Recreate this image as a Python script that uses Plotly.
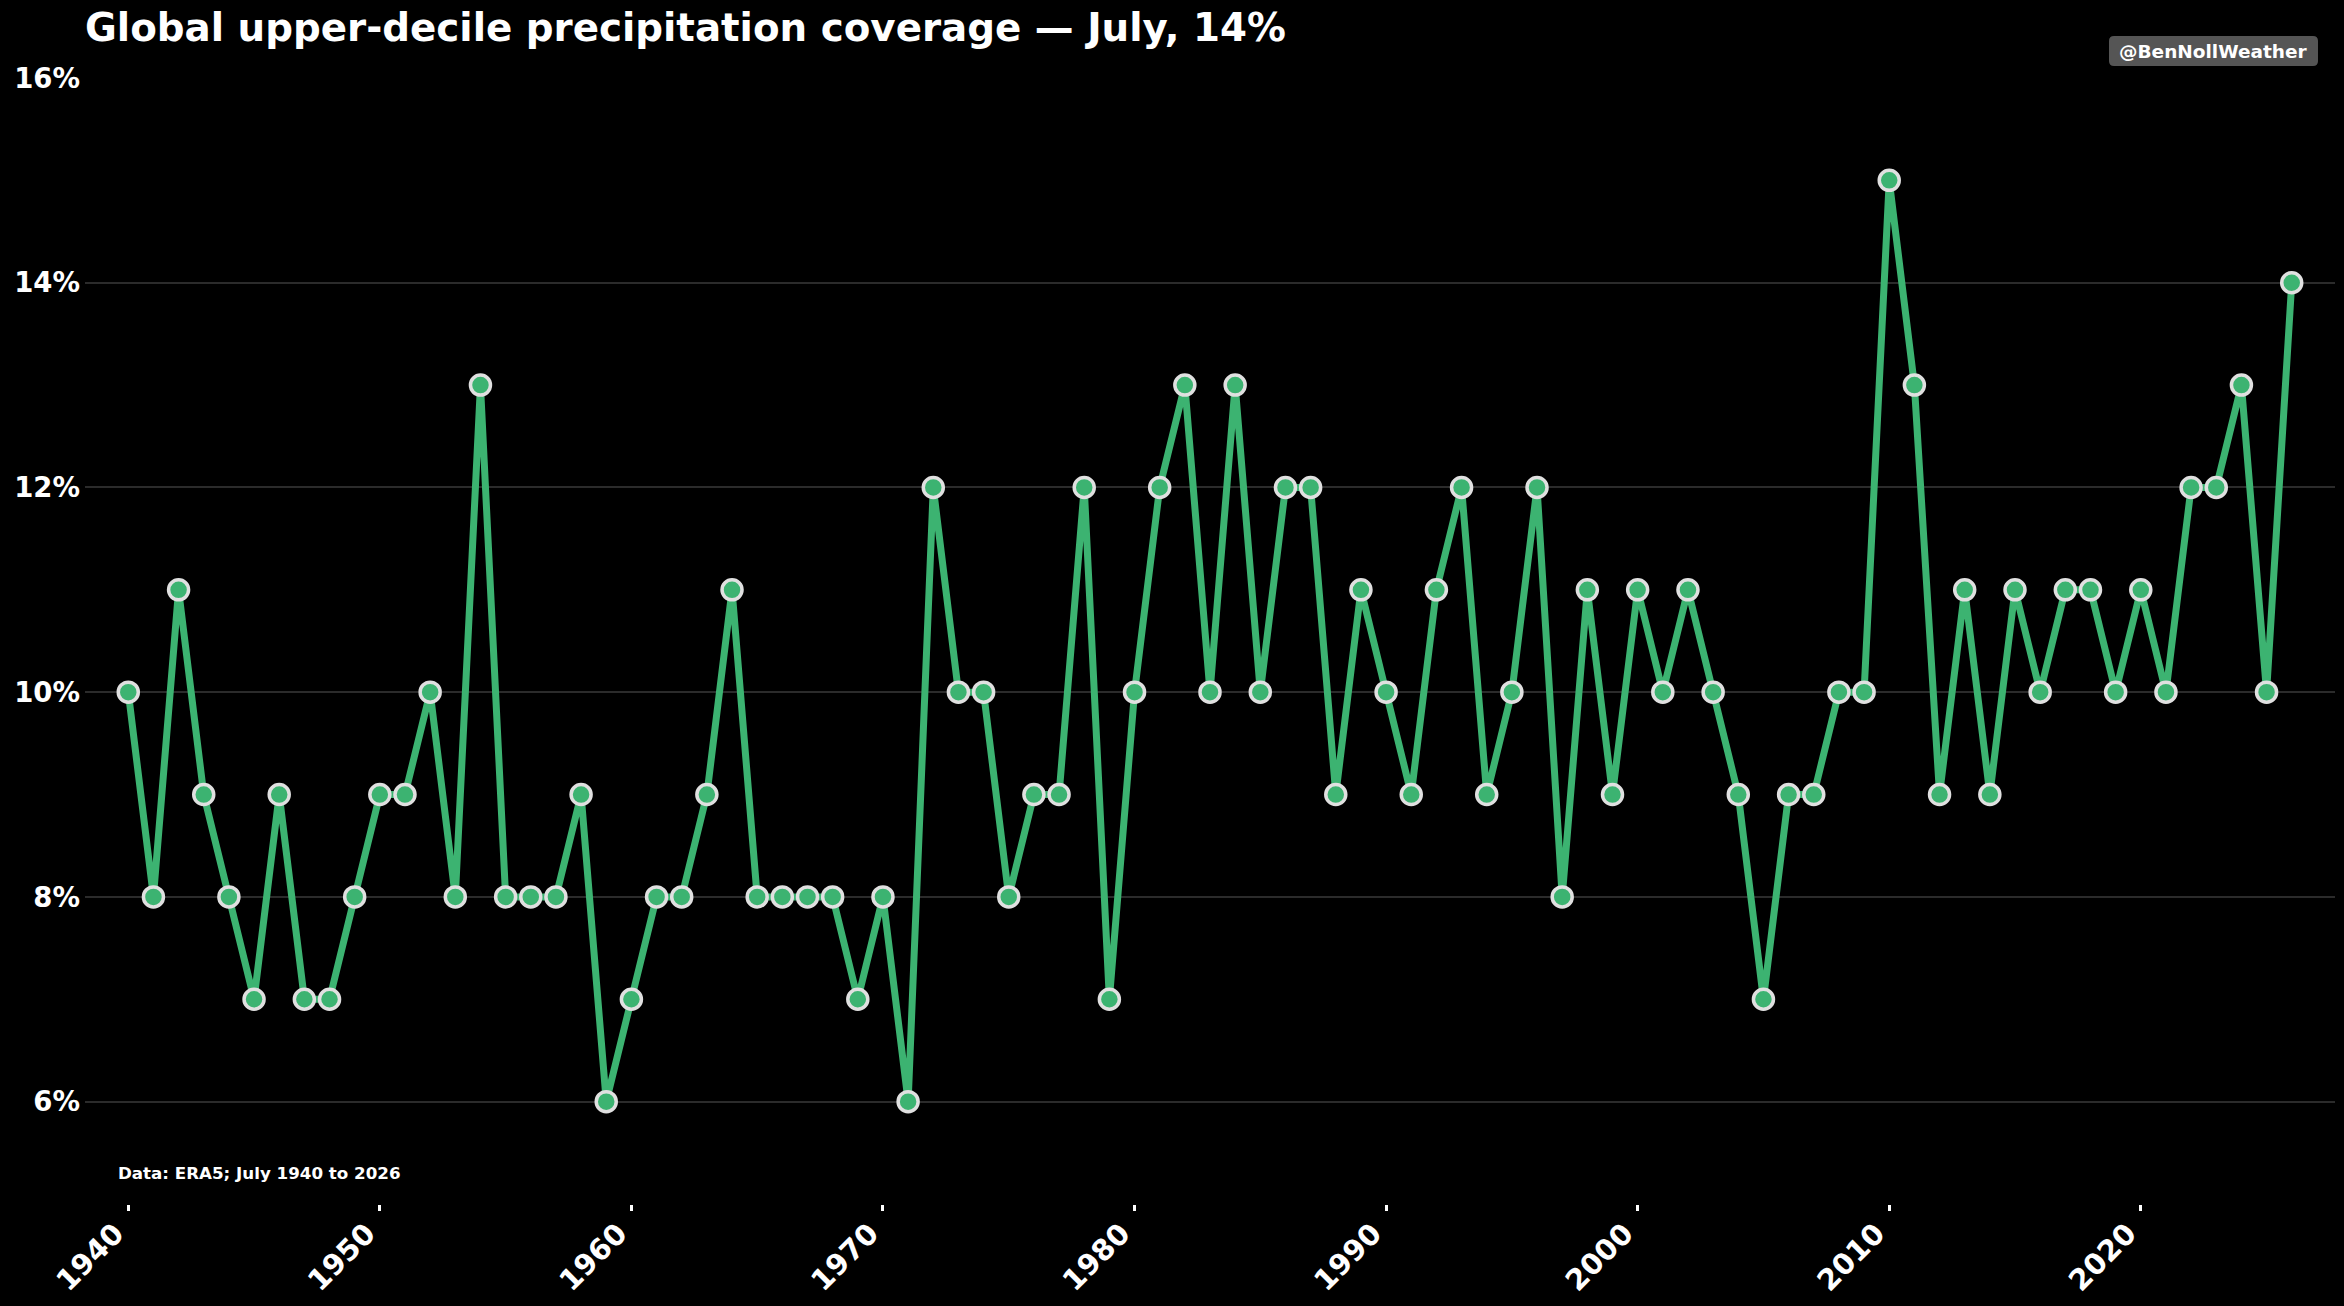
import plotly.graph_objects as go

years = list(range(1940, 2027))
coverage = [10, 8, 11, 9, 8, 7, 9, 7, 7, 8,
            9, 9, 10, 8, 13, 8, 8, 8, 9, 6,
            7, 8, 8, 9, 11, 8, 8, 8, 8, 7,
            8, 6, 12, 10, 10, 8, 9, 9, 12, 7,
            10, 12, 13, 10, 13, 10, 12, 12, 9, 11,
            10, 9, 11, 12, 9, 10, 12, 8, 11, 9,
            11, 10, 11, 10, 9, 7, 9, 9, 10, 10,
            15, 13, 9, 11, 9, 11, 10, 11, 11, 10,
            11, 10, 12, 12, 13, 10, 14]
x_ticks = [1940, 1950, 1960, 1970, 1980, 1990, 2000, 2010, 2020]
y_ticks = [6, 8, 10, 12, 14, 16]

green = '#3cb371'
font = 'DejaVu Sans'

# plot area in pixels
L, R, T, B = 85, 2335, 78, 1204
W, H = 2344, 1306


def px(x):
    return (x - L) / (R - L)


def py(y):
    return (B - y) / (B - T)


def rounded_box(x0, y0, x1, y1, r):
    # rounded rectangle as svg path in paper coords
    pts = [
        ('M', x0 + r, y0), ('L', x1 - r, y0), ('Q', x1, y0, x1, y0 + r),
        ('L', x1, y1 - r), ('Q', x1, y1, x1 - r, y1),
        ('L', x0 + r, y1), ('Q', x0, y1, x0, y1 - r),
        ('L', x0, y0 + r), ('Q', x0, y0, x0 + r, y0),
    ]
    out = ''
    for p in pts:
        if p[0] == 'Q':
            out += 'Q %f,%f %f,%f ' % (px(p[1]), py(p[2]), px(p[3]), py(p[4]))
        else:
            out += '%s %f,%f ' % (p[0], px(p[1]), py(p[2]))
    return out + 'Z'


fig = go.Figure()
fig.add_trace(go.Scatter(
    x=years, y=coverage, mode='lines+markers',
    line=dict(color=green, width=7),
    marker=dict(size=20, color=green, line=dict(color='#e0e0e0', width=3.5)),
    showlegend=False,
))

fig.update_layout(
    width=W, height=H,
    paper_bgcolor='black', plot_bgcolor='black',
    margin=dict(l=L, r=W - R, t=T, b=H - B),
    font=dict(family=font, color='white'),
    title=dict(text='<b>Global upper-decile precipitation coverage — July, 14%</b>',
               x=L / W, xanchor='left', y=1 - 27 / H, yanchor='middle',
               font=dict(size=38.8, color='white', family=font)),
)
fig.update_xaxes(
    range=[1938.28, 2027.72], tickvals=x_ticks,
    ticktext=['<b>%d</b>' % t for t in x_ticks],
    tickangle=-45, ticks='outside', ticklen=6, tickwidth=3, tickcolor='white',
    tickfont=dict(size=29, color='white', family=font),
    ticklabelshift=-13, ticklabelstandoff=-6, automargin=False,
    showgrid=False, zeroline=False, showline=False,
)
fig.update_yaxes(
    range=[5, 16], tickvals=y_ticks,
    ticktext=['<b>%d%%</b>' % t for t in y_ticks],
    tickfont=dict(size=27.5, color='white', family=font),
    showgrid=True, gridcolor='#2b2b2b', gridwidth=1.5, automargin=False,
    zeroline=False, showline=False, ticks='', ticklabelstandoff=4,
)

fig.add_annotation(
    text='<b>Data: ERA5; July 1940 to 2026</b>', xref='paper', yref='paper',
    x=px(116), y=py(1173), xanchor='left', yanchor='middle',
    showarrow=False, font=dict(size=16.7, color='white', family=font),
)
fig.add_shape(type='path', xref='paper', yref='paper',
              path=rounded_box(2109, 36, 2318, 66, 5),
              fillcolor='#555555', line=dict(width=0), layer='above')
fig.add_annotation(
    text='<b>@BenNollWeather</b>', xref='paper', yref='paper',
    x=px(2213.5), y=py(51), xanchor='center', yanchor='middle',
    showarrow=False, font=dict(size=18.5, color='white', family=font),
)

fig.write_html("out.html", config={'displayModeBar': False},
               post_script="document.body.style.margin='0';")
